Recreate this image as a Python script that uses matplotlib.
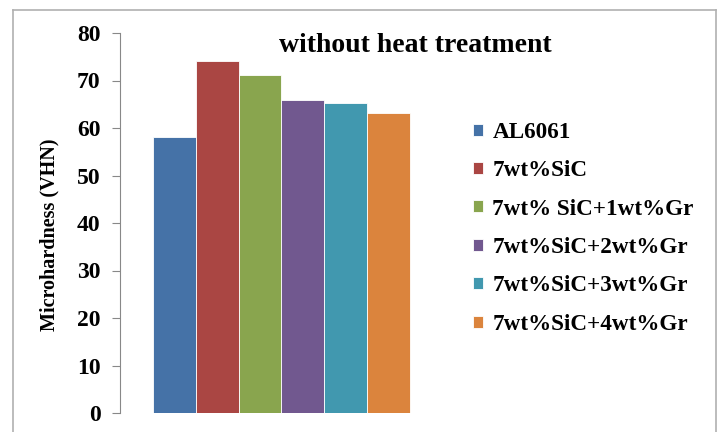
import matplotlib
matplotlib.use("Agg")
import matplotlib.pyplot as plt
from matplotlib.lines import Line2D

series = ["AL6061", "7wt%SiC", "7wt% SiC+1wt%Gr", "7wt%SiC+2wt%Gr",
          "7wt%SiC+3wt%Gr", "7wt%SiC+4wt%Gr"]
values = [58.2, 74.1, 71.1, 66.0, 65.2, 63.1]
colors = ["#4572A7", "#AA4643", "#89A54E", "#71588F", "#4198AF", "#DB843D"]
yticks = [0, 10, 20, 30, 40, 50, 60, 70, 80]

plt.rcParams['font.family'] = ['Liberation Serif', 'DejaVu Serif']
plt.rcParams['font.weight'] = 'bold'

W, H = 721, 432
fig = plt.figure(figsize=(W/100, H/100), dpi=100)

# axes from x=120 to 442, y=33 to 413 in pixels
ax = fig.add_axes([120/W, 1-413/H, (442-120)/W, (413-33)/H])
for i, (s, v, c) in enumerate(zip(series, values, colors)):
    ax.bar(i, v, width=1.0, color=c, label=s, edgecolor='white', linewidth=0.6)
ax.set_xlim(-1.27, 6.25)
ax.set_ylim(0, 80)
ax.set_yticks(yticks)
ax.set_yticklabels([str(t) for t in yticks], fontsize=17, fontweight='bold')
ax.set_xticks([])
for sp in ['top', 'right', 'bottom']:
    ax.spines[sp].set_visible(False)
ax.spines['left'].set_color('#888888')
ax.tick_params(axis='y', direction='out', length=6, color='#888888', pad=8)
ax.set_ylabel("Microhardness (VHN)", fontsize=14.5, fontweight='bold')
ax.yaxis.set_label_coords(-(120-59)/(442-120), 0.47)

fig.text(415/W, 1-45/H, "without heat treatment", fontsize=20, fontweight='bold',
         ha='center', va='center')

leg = ax.legend(loc='upper left', bbox_to_anchor=(452/W, 1-101/H),
                bbox_transform=fig.transFigure, frameon=False,
                prop={'size': 16.7, 'weight': 'bold'}, handlelength=0.42,
                handleheight=0.42, handletextpad=0.42, labelspacing=0.75)

# outer chart border
c = '#b0b0b0'
fig.add_artist(Line2D([13/W, 13/W], [0, 1-10/H], transform=fig.transFigure, color=c, lw=1.2))
fig.add_artist(Line2D([13/W, 716/W], [1-10/H, 1-10/H], transform=fig.transFigure, color=c, lw=1.2))
fig.add_artist(Line2D([716/W, 716/W], [0, 1-10/H], transform=fig.transFigure, color=c, lw=1.2))

fig.savefig("out.png", dpi=100)
